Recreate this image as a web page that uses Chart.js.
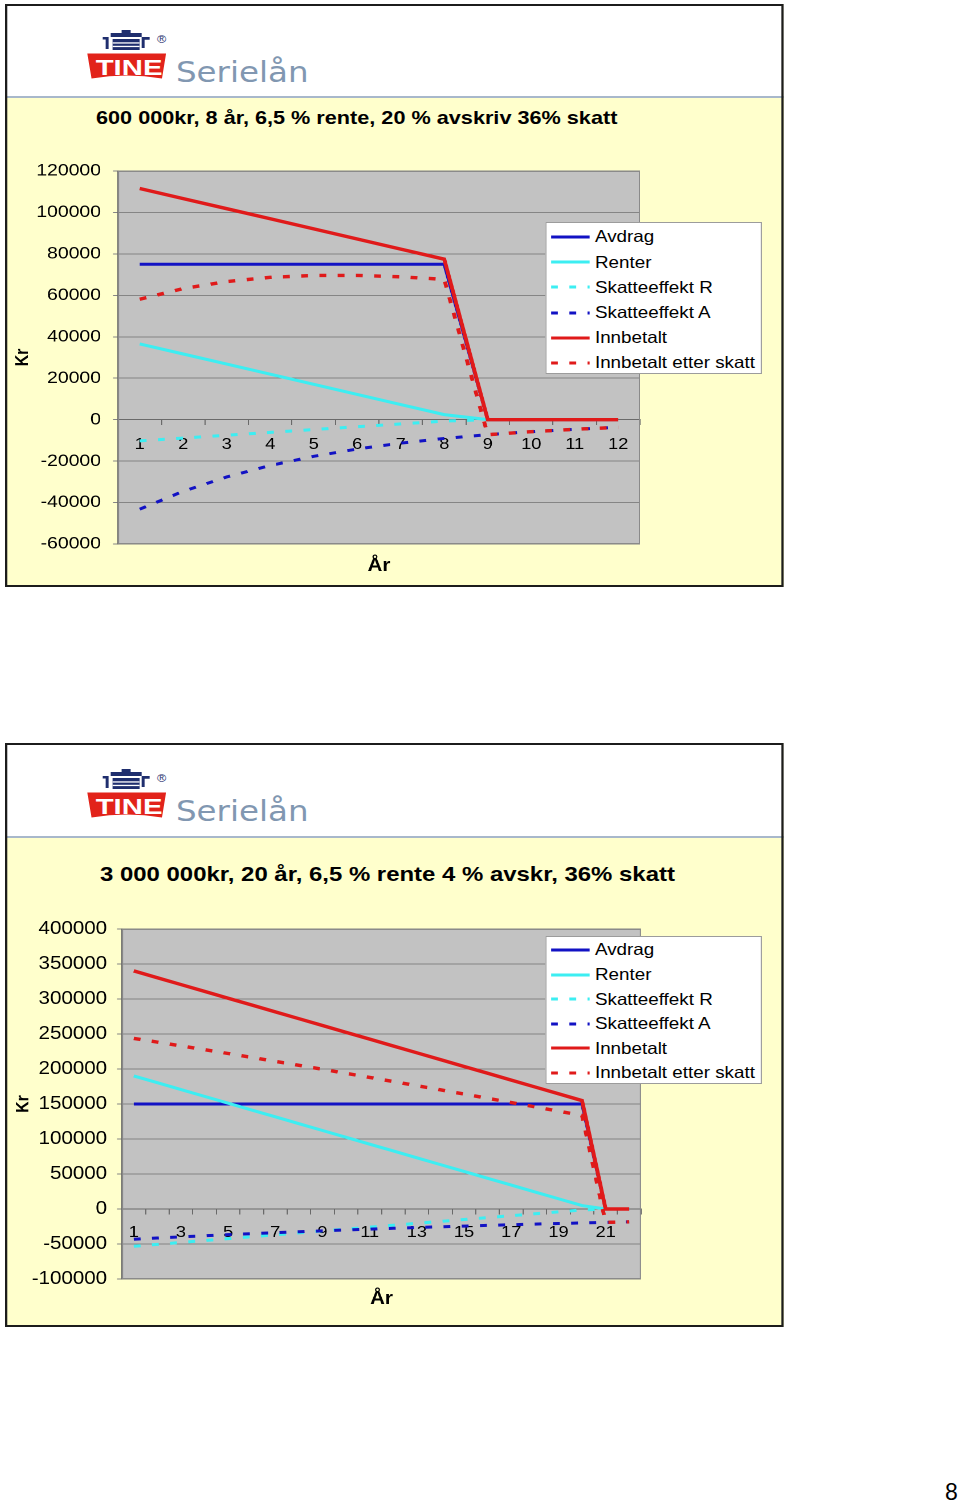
<!DOCTYPE html>
<html lang="no">
<head>
<meta charset="utf-8">
<title>Serielån</title>
<script src="https://cdn.jsdelivr.net/npm/chart.js@4.4.1/dist/chart.umd.min.js"></script>
<style>
  html, body { margin: 0; padding: 0; background: #fff; }
  body { position: relative; width: 960px; height: 1504px; overflow: hidden; font-family: "Liberation Sans", Arial, sans-serif; }
  /* slide content is drawn 1.14x wider, like the original print */
  .slide { position: absolute; left: 5px; width: 682.5px; background: #ffffcc; transform: scaleX(1.14); transform-origin: 0 0; }
  .slide .frame { position: absolute; inset: 0; border: 2px solid #1c1c1c; box-sizing: border-box; z-index: 5; pointer-events: none; }
  .slide .head { position: absolute; left: 0; top: 0; right: 0; background: #fff; }
  .slide .rule { position: absolute; left: 0; right: 0; height: 2px; background: #a8b8cb; }
  .slide .logo { position: absolute; left: 69.3px; top: 24px; }
  .slide .brand { position: absolute; left: 150px; font-family: "DejaVu Sans", sans-serif; font-size: 28.5px; line-height: 28px; color: #8197b1; white-space: nowrap; }
  .slide .title { position: absolute; font-weight: bold; white-space: nowrap; color: #000; }
  .slide canvas { position: absolute; left: 4px; }
  .legend { position: absolute; left: 473.7px; width: 190.4px; background: #fff; border: 1px solid #9c9c9c; box-sizing: border-box; font-size: 16.5px; color: #000; }
  .legend .row { display: flex; align-items: center; white-space: nowrap; }
  .legend svg { margin-left: 4.3px; margin-right: 4.5px; flex: none; }
  .pagenum { position: absolute; left: 945px; top: 1481px; font-size: 23px; line-height: 23px; }
</style>
</head>
<body>

<div class="slide" id="slide1" style="top:4px; height:583px;">
  <div class="head" style="height:92px;"></div>
  <div class="rule" style="top:92px;"></div>
  <div class="logoSlot"></div>
  <div class="brand" style="top:55.3px;">Serielån</div>
  <div class="title" style="left:79.8px; top:103.7px; font-size:19px; line-height:19px;">600 000kr, 8 år, 6,5 % rente, 20 % avskriv 36% skatt</div>
  <canvas id="chart1" width="674" height="440" style="top:141px;"></canvas>
  <div class="legend" id="legend1" style="top:218px; height:152px; padding-top:1.4px;"></div>
  <div class="frame"></div>
</div>

<div class="slide" id="slide2" style="top:743px; height:584px;">
  <div class="head" style="height:93px;"></div>
  <div class="rule" style="top:93px;"></div>
  <div class="logoSlot"></div>
  <div class="brand" style="top:55.3px;">Serielån</div>
  <div class="title" style="left:83.3px; top:119.7px; font-size:21px; line-height:21px;">3 000 000kr, 20 år, 6,5 % rente 4 % avskr, 36% skatt</div>
  <canvas id="chart2" width="674" height="420" style="top:162px;"></canvas>
  <div class="legend" id="legend2" style="top:193px; height:148px; padding-top:0.7px;"></div>
  <div class="frame"></div>
</div>

<div class="pagenum">8</div>

<script>
// Serielån, 600 000 kr over 8 år
const years1 = ['1', '2', '3', '4', '5', '6', '7', '8', '9', '10', '11', '12'];
const avdrag1 = [75000, 75000, 75000, 75000, 75000, 75000, 75000, 75000, 0, 0, 0, 0];
const renter1 = [36560, 31690, 26810, 21940, 17060, 12190, 7310, 2440, 0, 0, 0, 0];
const skattR1 = [-10240, -8870, -7510, -6140, -4780, -3410, -2050, -680, 0, 0, 0, 0];
const skattA1 = [-43200, -34560, -27650, -22120, -17690, -14160, -11320, -9060, -7250, -5800, -4640, -3710];
const innbetalt1 = [111560, 106690, 101810, 96940, 92060, 87190, 82310, 77440, 0, 0, 0, 0];
const etterSkatt1 = [58120, 63260, 66650, 68680, 69590, 69620, 68940, 67700, -7250, -5800, -4640, -3710];

// Serielån, 3 000 000 kr over 20 år
const years2 = ['1', '2', '3', '4', '5', '6', '7', '8', '9', '10', '11', '12', '13', '14', '15', '16', '17', '18', '19', '20', '21', '22'];
const avdrag2 = [150000, 150000, 150000, 150000, 150000, 150000, 150000, 150000, 150000, 150000,
  150000, 150000, 150000, 150000, 150000, 150000, 150000, 150000, 150000, 150000, 0, 0];
const renter2 = [190130, 180380, 170630, 160880, 151130, 141380, 131630, 121880, 112130, 102380,
  92630, 82880, 73130, 63380, 53630, 43880, 34130, 24380, 14630, 4880, 0, 0];
const skattR2 = [-53240, -50510, -47780, -45050, -42320, -39590, -36860, -34130, -31400, -28670,
  -25940, -23210, -20480, -17750, -15020, -12290, -9560, -6830, -4100, -1370, 0, 0];
const skattA2 = [-43200, -41470, -39810, -38220, -36690, -35220, -33810, -32460, -31160, -29920,
  -28720, -27570, -26470, -25410, -24390, -23420, -22480, -21580, -20720, -19890, -19090, -18330];
const innbetalt2 = [340130, 330380, 320630, 310880, 301130, 291380, 281630, 271880, 262130, 252380,
  242630, 232880, 223130, 213380, 203630, 193880, 184130, 174380, 164630, 154880, 0, 0];
const etterSkatt2 = [243690, 238400, 233040, 227610, 222120, 216570, 210960, 205290, 199570, 193790,
  187970, 182100, 176180, 170220, 164220, 158170, 152090, 145970, 139810, 133620, -19090, -18330];

const seriesNames = ['Avdrag', 'Renter', 'Skatteeffekt R', 'Skatteeffekt A', 'Innbetalt', 'Innbetalt etter skatt'];
const seriesColors = ['#1212c4', '#3ceef2', '#3ceef2', '#1212c4', '#e01a1a', '#e01a1a'];
const seriesDashed = [false, false, true, true, false, true];
const seriesWidths = [3, 3, 3, 3, 3.4, 3.4];
const DASH = [6, 10];

Chart.defaults.font.family = '"Liberation Sans", Arial, sans-serif';
Chart.defaults.color = '#000';

// grey plot area with a thin frame, like the old Excel look
const plotArea = {
  id: 'plotArea',
  beforeDraw(chart) {
    const { ctx, chartArea: a } = chart;
    ctx.save();
    ctx.fillStyle = '#c2c2c2';
    ctx.fillRect(a.left, a.top, a.width, a.height);
    ctx.restore();
  },
  beforeDatasetsDraw(chart) {
    const { ctx, chartArea: a } = chart;
    ctx.save();
    ctx.strokeStyle = '#8a8a8a';
    ctx.lineWidth = 1;
    ctx.strokeRect(a.left + 0.5, a.top + 0.5, a.width - 1, a.height - 1);
    ctx.restore();
  }
};

function logoSvg() {
  const navy = '#1f2e6e';
  return `<svg class="logo" width="80" height="56" viewBox="0 0 80 56">
    <rect x="33.3" y="2" width="7.9" height="3.4" fill="${navy}"/>
    <rect x="23.7" y="5" width="27.2" height="4" fill="${navy}"/>
    <rect x="25.4" y="11" width="23.7" height="11" fill="${navy}"/>
    <rect x="25.4" y="14.3" width="23.7" height="1.3" fill="#fff"/>
    <rect x="25.4" y="17.8" width="23.7" height="1.3" fill="#fff"/>
    <path d="M16.7 9 H21.9 V21 H19.3 V11.6 H16.7 Z" fill="${navy}"/>
    <path d="M50.9 9 H57.9 V11.8 H53.5 V20 H50.9 Z" fill="${navy}"/>
    <text x="68.4" y="15" font-size="11" text-anchor="middle" fill="${navy}" font-family="Liberation Sans, Arial">®</text>
    <path d="M3.2 25.5 H72.3 L68.7 50.5 Q37.8 44.5 6.9 50.5 Z" fill="#e2231a"/>
    <text x="10.6" y="46.8" font-size="22" font-weight="bold" fill="#fff" font-family="Liberation Sans, Arial"
      textLength="58.5" lengthAdjust="spacingAndGlyphs">TINE</text>
  </svg>`;
}

function buildLegend(id, rowHeight) {
  const el = document.getElementById(id);
  el.innerHTML = seriesNames.map((name, i) => {
    const dash = seriesDashed[i] ? `stroke-dasharray="${DASH.join(' ')}"` : '';
    return `<div class="row" style="height:${rowHeight}px">
      <svg width="34" height="4"><line x1="0" y1="2" x2="34" y2="2" stroke="${seriesColors[i]}" stroke-width="3" ${dash}/></svg>
      <span>${name}</span>
    </div>`;
  }).join('');
}

function buildDatasets(values) {
  return values.map((data, i) => ({
    label: seriesNames[i],
    data,
    xAxisID: 'x',
    yAxisID: 'y',
    borderColor: seriesColors[i],
    borderWidth: seriesWidths[i],
    borderDash: seriesDashed[i] ? DASH : [],
    pointRadius: 0,
    fill: false,
    tension: 0,
    order: values.length - i
  }));
}

function makeChart(id, labels, values, box) {
  return new Chart(document.getElementById(id), {
    type: 'line',
    data: { labels, datasets: buildDatasets(values) },
    plugins: [plotArea],
    options: {
      responsive: false,
      animation: false,
      devicePixelRatio: 2,
      layout: { padding: box.padding },
      plugins: { legend: { display: false }, tooltip: { enabled: false } },
      scales: {
        x: {
          position: { y: 0 },
          offset: true,
          ticks: {
            autoSkip: false,
            maxRotation: 0,
            font: { size: 16 },
            padding: box.xPad,
            callback: (v, i) => (i % box.xEvery === 0 ? labels[i] : '')
          },
          grid: { drawOnChartArea: false, offset: true, tickLength: 5, color: '#6a6a6a' },
          border: { color: '#6a6a6a' }
        },
        xt: {
          type: 'category',
          position: 'bottom',
          offset: true,
          ticks: { display: false },
          grid: { display: false, drawTicks: false },
          border: { display: false },
          title: { display: true, text: 'År', font: { size: 18, weight: 'bold' }, padding: 0 },
          afterFit: (s) => { s.height = box.titleH; }
        },
        y: {
          min: box.yMin,
          max: box.yMax,
          ticks: { stepSize: box.yStep, font: { size: box.yFont }, padding: box.yPad, callback: (v) => String(v) },
          grid: { color: '#858585', tickLength: 4.4 },
          border: { color: '#6a6a6a' },
          title: { display: true, text: 'Kr', font: { size: 16, weight: 'bold' }, padding: 0 },
          afterFit: (s) => { s.width = box.yWidth; }
        }
      }
    }
  });
}

document.querySelectorAll('.logoSlot').forEach(el => { el.outerHTML = logoSvg(); });

buildLegend('legend1', 25.2);
buildLegend('legend2', 24.6);

makeChart('chart1', years1, [avdrag1, renter1, skattR1, skattA1, innbetalt1, etterSkatt1], {
  yMin: -60000, yMax: 120000, yStep: 20000, yFont: 17, yPad: 10.5, yWidth: 92.9,
  xPad: 10.5, xEvery: 1, titleH: 32.8,
  padding: { left: 2.2, right: 121, top: 26, bottom: 8.2 }
});

makeChart('chart2', years2, [avdrag2, renter2, skattR2, skattA2, innbetalt2, etterSkatt2], {
  yMin: -100000, yMax: 400000, yStep: 50000, yFont: 18, yPad: 8.7, yWidth: 96,
  xPad: 9, xEvery: 2, titleH: 30.8,
  padding: { left: 2.6, right: 120.1, top: 24, bottom: 15.2 }
});
</script>
</body>
</html>
